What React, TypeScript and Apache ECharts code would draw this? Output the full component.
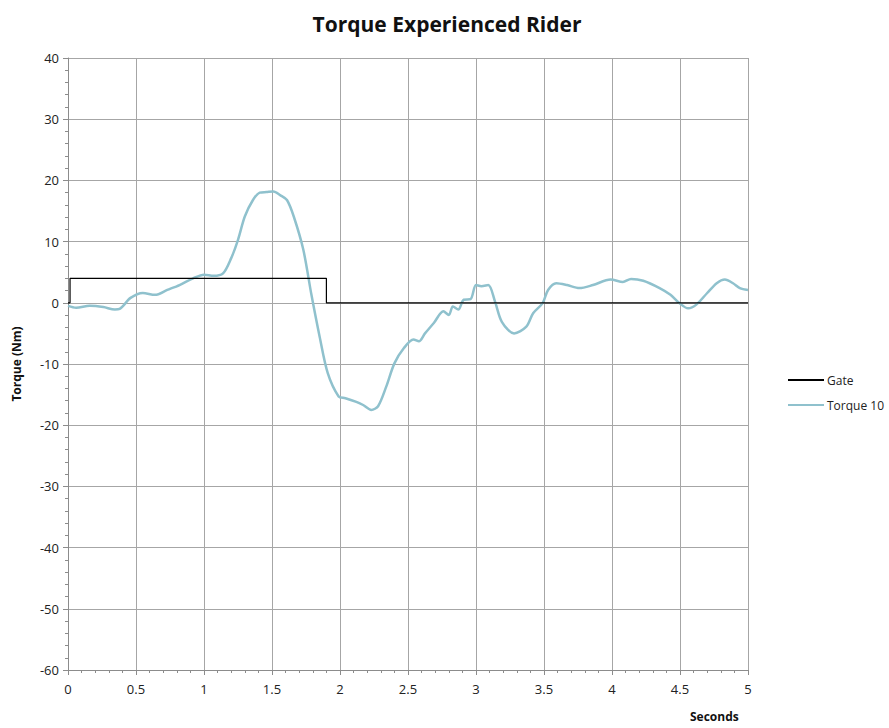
import React, { useEffect, useRef } from "react";
import * as echarts from "echarts";

const torqueTime = [0, 0.06, 0.16, 0.26, 0.345, 0.38, 0.46, 0.55, 0.64, 0.73, 0.82, 0.92, 1.0, 1.07, 1.14, 1.2, 1.25, 1.3, 1.36, 1.41, 1.46, 1.51, 1.56, 1.61, 1.66, 1.73, 1.79, 1.85, 1.91, 1.99, 2.04, 2.12, 2.17, 2.23, 2.28, 2.34, 2.4, 2.47, 2.54, 2.58, 2.625, 2.69, 2.76, 2.8, 2.83, 2.87, 2.91, 2.96, 3.0, 3.04, 3.09, 3.14, 3.19, 3.28, 3.37, 3.42, 3.49, 3.53, 3.59, 3.67, 3.76, 3.86, 3.99, 4.08, 4.14, 4.23, 4.35, 4.43, 4.49, 4.56, 4.62, 4.7, 4.77, 4.83, 4.89, 4.94, 5.0];
const torqueValues = [-0.5, -0.8, -0.5, -0.7, -1.1, -1.0, 0.8, 1.6, 1.3, 2.1, 2.9, 4.0, 4.6, 4.4, 4.8, 7.3, 10.3, 14.1, 16.8, 18.0, 18.1, 18.2, 17.6, 16.8, 14.1, 8.7, 1.3, -5.5, -11.5, -15.3, -15.6, -16.2, -16.7, -17.5, -16.9, -13.7, -9.9, -7.4, -6.0, -6.3, -5.0, -3.3, -1.4, -2.0, -0.6, -1.1, 0.5, 0.6, 2.9, 2.7, 2.9, 0.2, -3.1, -5.0, -3.9, -1.7, -0.05, 2.1, 3.2, 2.9, 2.4, 2.9, 3.8, 3.4, 3.9, 3.6, 2.4, 1.3, 0.05, -0.9, -0.3, 1.6, 3.2, 3.8, 3.2, 2.4, 2.1];

const gateTime = [0, 0.015, 0.015, 1.9, 1.9, 5];
const gateValues = [0, 0, 4, 4, 0, 0];

const seriesNames = ["Gate", "Torque 10"];
const chartTitle = "Torque Experienced Rider";
const xAxisTitle = "Seconds";
const yAxisTitle = "Torque (Nm)";

export default function App() {
  const ref = useRef<HTMLDivElement>(null);
  useEffect(() => {
    if (!ref.current) return;
    const chart = echarts.init(ref.current, null, { renderer: "svg" });
    const font = "'Open Sans', 'Noto Sans', sans-serif";
    chart.setOption({
      animation: false,
      backgroundColor: "#ffffff",
      textStyle: { fontFamily: font },
      title: {
        text: chartTitle,
        left: 442,
        textAlign: "center",
        top: 8,
        textStyle: { fontSize: 21, fontWeight: "bold", color: "#111", fontFamily: font },
      },
      legend: {
        orient: "vertical",
        left: 783,
        top: 369,
        icon: "rect",
        itemWidth: 36,
        itemHeight: 2,
        itemGap: 13,
        textStyle: { fontSize: 12, color: "#222", fontFamily: font, padding: [0, 0, 0, -2] },
        data: seriesNames,
      },
      grid: { left: 68, right: 141, top: 58, bottom: 58, containLabel: false },
      xAxis: {
        type: "value",
        min: 0,
        max: 5,
        interval: 0.5,
        axisLine: { show: true, onZero: false, lineStyle: { color: "#8c8c8c" } },
        axisTick: { show: true, length: 5, lineStyle: { color: "#8c8c8c" } },
        minorTick: { show: true, splitNumber: 5, length: 3, lineStyle: { color: "#8c8c8c" } },
        splitLine: { show: true, lineStyle: { color: "#a6a6a6", width: 1 } },
        axisLabel: { fontSize: 13, color: "#222", margin: 12, fontFamily: font },
      },
      yAxis: {
        type: "value",
        min: -60,
        max: 40,
        interval: 10,
        name: yAxisTitle,
        nameLocation: "middle",
        nameGap: 46,
        nameTextStyle: { fontSize: 12, fontWeight: "bold", color: "#111", fontFamily: font },
        axisLine: { show: true, lineStyle: { color: "#8c8c8c" } },
        axisTick: { show: true, length: 5, lineStyle: { color: "#8c8c8c" } },
        minorTick: { show: true, splitNumber: 5, length: 3, lineStyle: { color: "#8c8c8c" } },
        splitLine: { show: true, lineStyle: { color: "#a6a6a6", width: 1 } },
        axisLabel: { fontSize: 13, color: "#222", margin: 9, fontFamily: font },
      },
      graphic: [
        {
          type: "text",
          left: 690,
          top: 710,
          style: { text: xAxisTitle, fontSize: 12, fontWeight: "bold", fill: "#111", fontFamily: font },
        },
      ],
      series: [
        {
          name: seriesNames[0],
          type: "line",
          symbol: "none",
          data: gateTime.map((t, i) => [t, gateValues[i]]),
          lineStyle: { color: "#000000", width: 1.2 },
          itemStyle: { color: "#000000" },
          z: 3,
        },
        {
          name: seriesNames[1],
          type: "line",
          symbol: "none",
          smooth: 0.3,
          data: torqueTime.map((t, i) => [t, torqueValues[i]]),
          lineStyle: { color: "#8fc1cd", width: 2.5 },
          itemStyle: { color: "#8fc1cd" },
          z: 2,
        },
      ],
    });
    return () => chart.dispose();
  }, []);
  return <div ref={ref} style={{ width: 889, height: 728, position: "absolute", left: 0, top: 0 }} />;
}
